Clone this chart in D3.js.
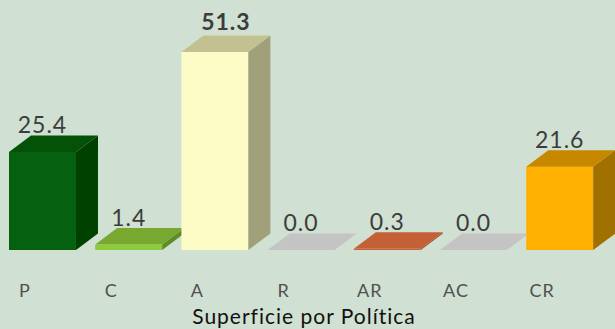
<!DOCTYPE html>
<html>
<head>
<meta charset="utf-8">
<script src="https://cdn.jsdelivr.net/npm/d3@7"></script>
<style>
  html, body { margin: 0; padding: 0; background: #d0e0d2; }
  svg { display: block; }
  text { font-family: Lato, "Noto Sans", sans-serif; }
</style>
</head>
<body>
<svg id="chart" width="615" height="329"></svg>
<script>
// Superficie por Política (%)
const categories = ["P", "C", "A", "R", "AR", "AC", "CR"];
const values = [25.4, 1.4, 51.3, 0.0, 0.3, 0.0, 21.6];
const frontColors = ["#05610f", "#8ccc3a", "#fdfcc6", "#c4c4c4", "#c86238", "#c4c4c4", "#ffb000"];
const topColors   = ["#035207", "#78a830", "#c3c092", "#c4c4c4", "#c46036", "#c4c4c4", "#c78800"];
const sideColors  = ["#014100", "#5f8c22", "#a0a07a", "#aaaaaa", "#a04828", "#aaaaaa", "#a07000"];
const title = "Superficie por Política";

const baseY = 250;
const depthX = 22, depthY = 16.5;

const svg = d3.select("#chart");

const x = d3.scaleBand()
  .domain(categories)
  .range([9, 593.2])
  .paddingInner(0.223)
  .paddingOuter(0);

const y = d3.scaleLinear()
  .domain([0, 51.3])
  .range([baseY, 52]);

const data = categories.map((c, i) => ({
  cat: c, v: values[i],
  front: frontColors[i], top: topColors[i], side: sideColors[i]
}));

const maxV = d3.max(values);
const bw = x.bandwidth();

const bars = svg.append("g").selectAll("g").data(data).join("g");

// front face
bars.filter(d => d.v > 0).append("rect")
  .attr("x", d => x(d.cat))
  .attr("y", d => y(d.v))
  .attr("width", bw)
  .attr("height", d => baseY - y(d.v))
  .attr("fill", d => d.front);

// right side face
bars.filter(d => d.v > 0).append("path")
  .attr("d", d => {
    const x1 = x(d.cat) + bw, t = y(d.v);
    return `M${x1},${t} L${x1 + depthX},${t - depthY} L${x1 + depthX},${baseY - depthY} L${x1},${baseY} Z`;
  })
  .attr("fill", d => d.side);

// top face
bars.append("path")
  .attr("d", d => {
    const x0 = x(d.cat), t = y(d.v);
    return `M${x0},${t} L${x0 + bw},${t} L${x0 + bw + depthX},${t - depthY} L${x0 + depthX},${t - depthY} Z`;
  })
  .attr("fill", d => d.top);

// value labels
svg.append("g").selectAll("text").data(data).join("text")
  .attr("x", d => d.v === maxV ? x(d.cat) + bw / 2 + depthX / 2 : x(d.cat) + bw / 2)
  .attr("y", d => y(d.v) - depthY - (d.v === maxV ? 6 : 2.5))
  .attr("text-anchor", "middle")
  .attr("font-size", 23)
  .attr("letter-spacing", 1)
  .attr("font-weight", d => d.v === maxV ? "bold" : "normal")
  .attr("fill", "#3c3c3c")
  .text(d => d3.format(".1f")(d.v));

// category axis (no line, no ticks)
const axis = svg.append("g")
  .attr("transform", `translate(0,${baseY})`)
  .call(d3.axisBottom(x).tickSize(0).tickPadding(0));
axis.select(".domain").remove();
axis.selectAll(".tick").attr("transform", d => `translate(${x(d) + 16},0)`);
axis.selectAll(".tick text")
  .attr("y", 47)
  .attr("dy", 0)
  .attr("font-size", 18)
  .attr("font-family", "Lato, 'Noto Sans', sans-serif")
  .attr("fill", "#505050")
  .attr("letter-spacing", 1);

// axis title
svg.append("text")
  .attr("x", 304)
  .attr("y", 324)
  .attr("text-anchor", "middle")
  .attr("font-size", 21)
  .attr("fill", "#111")
  .attr("letter-spacing", 1)
  .text(title);
</script>
</body>
</html>
